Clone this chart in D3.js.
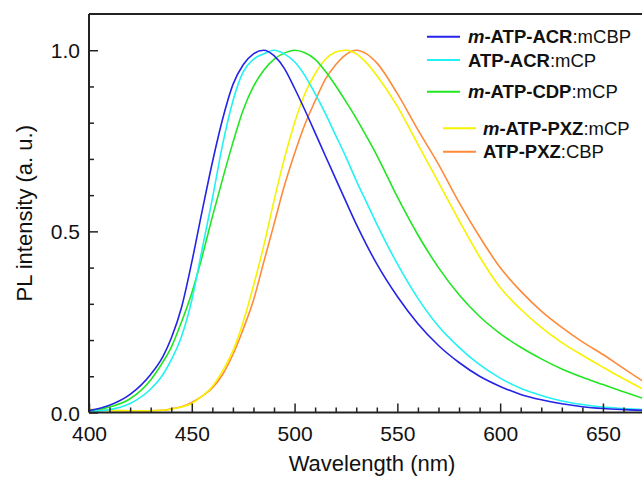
<!DOCTYPE html>
<html><head><meta charset="utf-8">
<script src="https://cdn.jsdelivr.net/npm/d3@7"></script>
<style>
html,body{margin:0;padding:0;background:#fff;}
svg{display:block;}
text{font-family:"Liberation Sans",Arial,Helvetica,sans-serif;fill:#111;}
</style></head>
<body>
<svg id="chart" width="642" height="477"></svg>
<script>
// ---- data ----
const wavelengths = [400,410,420,430,436,440,445,450,455,460,465,470,475,480,485,490,495,500,505,510,515,520,525,530,535,540,550,560,570,580,590,600,610,620,630,640,650,660,669];
const mATPACR_mCBP = [0.005,0.02,0.05,0.105,0.155,0.205,0.29,0.415,0.555,0.69,0.81,0.905,0.96,0.99,1.0,0.985,0.95,0.895,0.835,0.772,0.708,0.645,0.582,0.52,0.463,0.41,0.32,0.245,0.185,0.138,0.10,0.072,0.05,0.035,0.024,0.016,0.011,0.008,0.006];
const ATPACR_mCP = [0.003,0.008,0.025,0.065,0.105,0.145,0.21,0.31,0.45,0.59,0.74,0.86,0.94,0.975,0.99,1.0,0.99,0.968,0.93,0.88,0.825,0.765,0.705,0.64,0.58,0.52,0.41,0.315,0.238,0.18,0.132,0.095,0.067,0.047,0.032,0.022,0.015,0.011,0.008];
const mATPCDP_mCP = [0.004,0.015,0.038,0.09,0.14,0.18,0.25,0.33,0.43,0.54,0.645,0.745,0.835,0.90,0.945,0.975,0.992,1.0,0.993,0.975,0.942,0.902,0.858,0.812,0.762,0.71,0.595,0.49,0.40,0.325,0.265,0.218,0.18,0.148,0.12,0.097,0.077,0.057,0.04];
const mATPPXZ_mCP = [0.008,0.006,0.005,0.005,0.006,0.009,0.015,0.025,0.045,0.072,0.115,0.17,0.25,0.35,0.46,0.585,0.70,0.80,0.88,0.935,0.975,0.995,1.0,0.99,0.965,0.93,0.845,0.74,0.635,0.53,0.43,0.345,0.285,0.235,0.193,0.158,0.125,0.093,0.066];
const ATPPXZ_CBP = [0.008,0.006,0.005,0.005,0.006,0.01,0.016,0.028,0.045,0.068,0.105,0.16,0.23,0.31,0.415,0.52,0.625,0.715,0.795,0.86,0.92,0.96,0.988,1.0,0.99,0.965,0.88,0.78,0.685,0.58,0.485,0.40,0.335,0.28,0.235,0.195,0.16,0.122,0.088];

const seriesNames = ["m-ATP-ACR:mCBP","ATP-ACR:mCP","m-ATP-CDP:mCP","m-ATP-PXZ:mCP","ATP-PXZ:CBP"];
const legendBold = [["m","-ATP-ACR"],["","ATP-ACR"],["m","-ATP-CDP"],["m","-ATP-PXZ"],["","ATP-PXZ"]];
const legendRest = [":mCBP",":mCP",":mCP",":mCP",":CBP"];
const seriesColors = ["#2424e6","#22f2f2","#22e622","#f6f200","#ff8a3a"];
const seriesValues = [mATPACR_mCBP, ATPACR_mCP, mATPCDP_mCP, mATPPXZ_mCP, ATPPXZ_CBP];

const xMajorTicks = [400,450,500,550,600,650];
const xMinorTicks = d3.range(410,670,10).filter(v=>v%50!==0);
const yMajorTicks = [0.0,0.5,1.0];
const yMinorTicks = [0.1,0.2,0.3,0.4,0.6,0.7,0.8,0.9];
const xTitle = "Wavelength (nm)";
const yTitle = "PL intensity (a. u.)";

// ---- layout ----
const svg = d3.select("#chart");
const L = 89, R = 642, T = 14, B = 412.5;
const x = d3.scaleLinear().domain([400, 669]).range([L, R]);
const y = d3.scaleLinear().domain([0, 1.1]).range([B, T]);

svg.append("defs").append("clipPath").attr("id","clip")
  .append("rect").attr("x",L).attr("y",T).attr("width",R-L).attr("height",B-T);

// curves (drawn so that the yellow sits over the orange)
const order = [4,3,2,1,0];
const line = d3.line().curve(d3.curveMonotoneX);
const gLines = svg.append("g").attr("clip-path","url(#clip)");
order.forEach(i=>{
  const pts = wavelengths.map((w,k)=>[x(w), y(seriesValues[i][k])]);
  gLines.append("path").attr("d", line(pts))
    .attr("fill","none").attr("stroke",seriesColors[i]).attr("stroke-width",1.6)
    .attr("stroke-linejoin","round");
});

// axes with inward ticks
const axisColor = "#222";
const xAxis = d3.axisBottom(x).tickValues(xMajorTicks).tickSize(-9).tickPadding(14).tickFormat(d3.format("d"));
const gx = svg.append("g").attr("transform",`translate(0,${B})`).call(xAxis);
const xAxisMinor = d3.axisBottom(x).tickValues(xMinorTicks).tickSize(-5).tickFormat("");
const gxm = svg.append("g").attr("transform",`translate(0,${B})`).call(xAxisMinor);
const yAxis = d3.axisLeft(y).tickValues(yMajorTicks).tickSize(-9).tickPadding(9).tickFormat(d3.format(".1f"));
const gy = svg.append("g").attr("transform",`translate(${L},0)`).call(yAxis);
const yAxisMinor = d3.axisLeft(y).tickValues(yMinorTicks).tickSize(-5).tickFormat("");
const gym = svg.append("g").attr("transform",`translate(${L},0)`).call(yAxisMinor);

[gx,gxm,gy,gym].forEach(g=>{
  g.select(".domain").remove();
  g.selectAll(".tick line").attr("stroke",axisColor).attr("stroke-width",1.5);
  g.selectAll(".tick text").style("font-size","21px").attr("fill","#111")
   .style("font-family",'"Liberation Sans",Arial,sans-serif');
});
gy.selectAll(".tick text").attr("dy","0.36em");

// frame lines: left, bottom, top (right edge is cut by the image)
svg.append("line").attr("x1",L).attr("x2",L).attr("y1",T).attr("y2",B)
  .attr("stroke",axisColor).attr("stroke-width",2);
svg.append("line").attr("x1",L).attr("x2",R).attr("y1",B).attr("y2",B)
  .attr("stroke",axisColor).attr("stroke-width",2);
svg.append("line").attr("x1",L).attr("x2",R).attr("y1",T).attr("y2",T)
  .attr("stroke",axisColor).attr("stroke-width",2);

// titles
svg.append("text").attr("x",372).attr("y",471).attr("text-anchor","middle")
  .style("font-size","22px").text(xTitle);
svg.append("text").attr("transform",`translate(32,${(T+B)/2}) rotate(-90)`)
  .attr("text-anchor","middle").style("font-size","22px").text(yTitle);

// legend
const legendRows = [
  {x1:427, x2:460, y:36.7, tx:468},
  {x1:427, x2:460, y:60, tx:468},
  {x1:427, x2:460, y:91.7, tx:468},
  {x1:443, x2:476, y:128.3, tx:483},
  {x1:443, x2:476, y:151.7, tx:483}
];
const gLeg = svg.append("g");
legendRows.forEach((r,i)=>{
  gLeg.append("line").attr("x1",r.x1).attr("x2",r.x2).attr("y1",r.y).attr("y2",r.y)
    .attr("stroke",seriesColors[i]).attr("stroke-width",2);
  const t = gLeg.append("text").attr("x",r.tx).attr("y",r.y).attr("dy","0.36em")
    .style("font-size","18.5px");
  if (legendBold[i][0]) t.append("tspan").style("font-weight","bold").style("font-style","italic").text(legendBold[i][0]);
  t.append("tspan").style("font-weight","bold").text(legendBold[i][1]);
  t.append("tspan").style("font-weight","normal").text(legendRest[i]);
});
</script>
</body></html>
